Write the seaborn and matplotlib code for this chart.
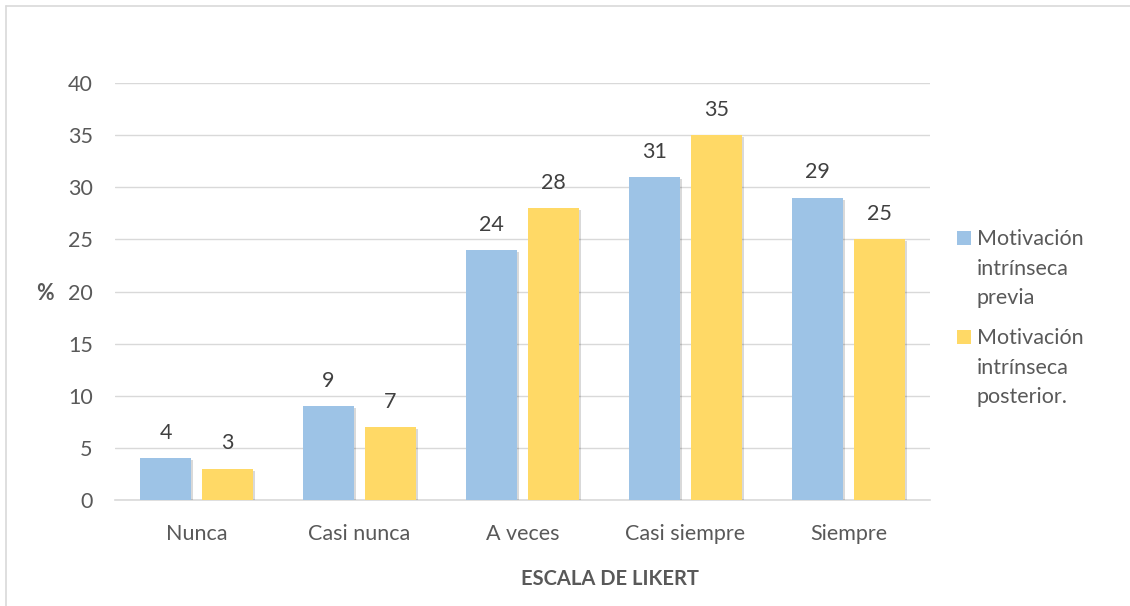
import matplotlib
matplotlib.use("Agg")
import matplotlib.pyplot as plt
import matplotlib.patheffects as pe
from matplotlib.lines import Line2D
from matplotlib.patches import Rectangle
import seaborn as sns
import pandas as pd

categories = ["Nunca", "Casi nunca", "A veces", "Casi siempre", "Siempre"]
series_names = ["Motivación\nintrínseca\nprevia", "Motivación\nintrínseca\nposterior."]
previa = [4, 9, 24, 31, 29]
posterior = [3, 7, 28, 35, 25]
colors = ["#9DC3E6", "#FFD966"]

df = pd.DataFrame({
    "Escala": categories * 2,
    "Serie": [series_names[0]] * 5 + [series_names[1]] * 5,
    "Valor": previa + posterior,
})

sns.set_style("white")
plt.rcParams["font.family"] = ["Lato", "DejaVu Sans"]
text_color = "#595959"
fs = 15.5

fig = plt.figure(figsize=(11.3, 6.06), dpi=100)
W, H = 1130, 606
ax = fig.add_axes([115 / W, 1 - 500 / H, 815 / W, 417 / H])

sns.barplot(data=df, x="Escala", y="Valor", hue="Serie", palette=colors,
            width=0.76, gap=0.18, ax=ax, saturation=1, legend=False,
            linewidth=0, zorder=3)

shadow = [pe.SimplePatchShadow(offset=(1.5, -1.5), shadow_rgbFace="#000000", alpha=0.15),
          pe.Normal()]
for patch in ax.patches:
    patch.set_path_effects(shadow)

for cont in ax.containers:
    ax.bar_label(cont, padding=11, fontsize=fs, color="#404040")

ax.set_ylim(0, 40)
ax.set_xlim(-0.5, 4.5)
ax.set_yticks(range(0, 41, 5))
ax.grid(axis="y", color="#D9D9D9", linewidth=1, zorder=0)
for s in ["top", "right", "left"]:
    ax.spines[s].set_visible(False)
ax.spines["bottom"].set_color("#D9D9D9")
ax.spines["bottom"].set_linewidth(1.2)
ax.tick_params(axis="both", length=0, labelsize=fs, colors=text_color)
ax.tick_params(axis="x", pad=17)
ax.tick_params(axis="y", pad=16)

ax.set_xlabel("ESCALA DE LIKERT", fontsize=14.5, fontweight="bold",
              color=text_color)
ax.xaxis.set_label_coords((610 - 115) / 815, -0.166)
ax.set_ylabel("%", fontsize=fs, fontweight="bold", color=text_color,
              rotation=0, va="center", ha="center")
ax.yaxis.set_label_coords((45 - 115) / 815, (500 - 293) / 417)

# legend: square marker aligned with the first line of each wrapped label
legend_rows = [(238, series_names[0], colors[0]), (337, series_names[1], colors[1])]
for y_first, label, color in legend_rows:
    fig.add_artist(Rectangle((957 / W, 1 - (y_first + 7) / H), 14 / W, 14 / H,
                             transform=fig.transFigure, color=color, lw=0))
    fig.text(977 / W, 1 - (y_first - 9) / H, label, fontsize=fs,
             color=text_color, va="top", ha="left", linespacing=1.6)

# outer frame of the chart area
fig.add_artist(Line2D([5.5 / W, 5.5 / W], [0, 1 - 5.5 / H],
                      transform=fig.transFigure, color="#D9D9D9", lw=1.2))
fig.add_artist(Line2D([5.5 / W, 1], [1 - 5.5 / H, 1 - 5.5 / H],
                      transform=fig.transFigure, color="#D9D9D9", lw=1.2))

fig.savefig("out.png", dpi=100, facecolor="white")
